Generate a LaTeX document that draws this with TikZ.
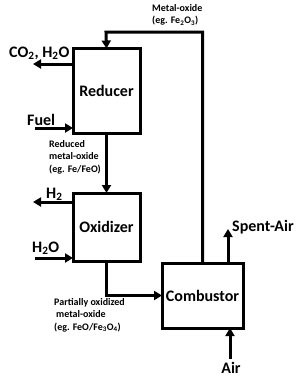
\documentclass[tikz,border=0pt]{standalone}
\usepackage{fontspec}
\setmainfont{Carlito}
\usetikzlibrary{arrows.meta,calc}

\begin{document}
\begin{tikzpicture}[x=1pt,y=-1pt,font=\bfseries,
    unit/.style={draw,line width=3pt,outer sep=0pt,font=\bfseries\fontsize{16}{18}\selectfont},
    flow/.style={line width=3pt,-{Triangle[length=8pt,width=9pt]}},
    stream/.style={font=\bfseries\fontsize{16}{18}\selectfont,inner sep=0pt},
    note/.style={font=\bfseries\fontsize{10}{12.5}\selectfont,align=left,
      anchor=north west,inner sep=0pt}]
  \useasboundingbox (0,0) rectangle (300,384);

  % the three reactors
  \node[unit,minimum width=67pt,minimum height=85pt] (red) at (106.5,91) {Reducer};
  \node[unit,minimum width=67pt,minimum height=68pt] (oxi) at (106.5,227) {Oxidizer};
  \node[unit,minimum width=81pt,minimum height=65pt] (com) at (202.5,295.5) {Combustor};

  \coordinate (loop) at (106,32);
  \coordinate (co2) at (33,64);
  \coordinate (fuel) at (35,128);
  \coordinate (h2) at (33,202);
  \coordinate (h2o) at (35,258);
  \coordinate (spent) at (228,229);
  \coordinate (air) at (230,359);

  % solids circulation
  \draw[flow] (com.north) |- (loop) -- (red.north);
  \draw[flow] (red.south) -- (oxi.north);
  \draw[flow] (oxi.south) |- (com.west);

  % gas streams
  \draw[flow] (red.west |- co2) -- (co2);
  \draw[flow] (fuel) -- (fuel -| red.west);
  \draw[flow] (oxi.west |- h2) -- (h2);
  \draw[flow] (h2o) -- (h2o -| oxi.west);
  \draw[flow] (com.north -| spent) -- (spent);
  \draw[flow] (air) -- (air |- com.south);

  \node[stream,anchor=base west] (co2l) at (9,57) {CO\textsubscript{2}, H\textsubscript{2}O};
  \node[stream,anchor=base west] (fuell) at (27,125) {Fuel};
  \node[stream,anchor=base west] (h2l) at (46,198) {H\textsubscript{2}};
  \node[stream,anchor=base west] (h2ol) at (32,252) {H\textsubscript{2}O};
  \node[stream,anchor=base west] (spentl) at (232,231) {Spent-Air};
  \node[stream,anchor=base] (airl) at (231,373) {Air};

  % solids labels
  \node[note] (moxl) at (152,4) {Metal-oxide\\(eg. Fe\textsubscript{2}O\textsubscript{3})};
  \node[note] (redl) at (49,140) {Reduced\\metal-oxide\\(eg. Fe/FeO)};
  \node[note] (partl) at (54,298) {Partially oxidized\\\hspace{2pt}metal-oxide\\(eg. FeO/Fe\textsubscript{3}O\textsubscript{4})};
\end{tikzpicture}
\end{document}
